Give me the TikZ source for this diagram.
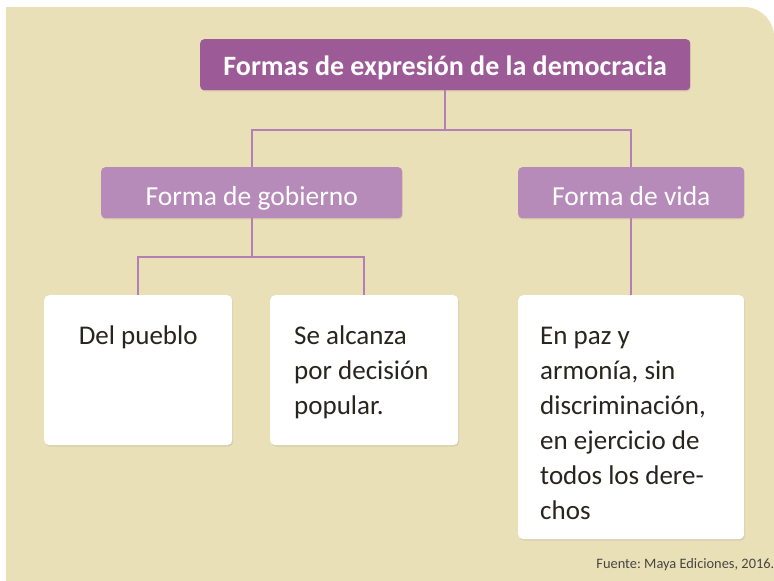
\documentclass[tikz,border=0pt]{standalone}
\usepackage{fontspec}
\setmainfont{Carlito}
\usepackage{xcolor}
\usetikzlibrary{shadows}

\definecolor{fondo}{RGB}{234,224,184}
\definecolor{moradoosc}{RGB}{156,90,151}
\definecolor{moradocl}{RGB}{182,138,185}
\definecolor{linea}{RGB}{178,128,180}
\definecolor{tinta}{RGB}{40,36,30}

\begin{document}
\frenchspacing
\begin{tikzpicture}[
    x=1pt, y=-1pt,
    titulo/.style={fill=moradoosc, rounded corners=4pt, text=white,
        font=\fontsize{28}{30}\selectfont\bfseries, minimum width=490pt,
        inner ysep=0pt, text height=36pt, text depth=15pt, anchor=north west,
        drop shadow={shadow xshift=0.5pt, shadow yshift=-1.2pt, opacity=0.22}},
    forma/.style={fill=moradocl, rounded corners=4pt, text=white,
        font=\fontsize{27.5}{30}\selectfont,
        inner ysep=0pt, text height=38pt, text depth=13pt, anchor=north west,
        drop shadow={shadow xshift=0.5pt, shadow yshift=-1.2pt, opacity=0.2}},
    caja/.style={fill=white, rounded corners=5pt, text=tinta,
        font=\fontsize{27}{35}\selectfont, anchor=north west,
        inner ysep=0pt, text height=49pt,
        drop shadow={shadow xshift=1pt, shadow yshift=-1.5pt, opacity=0.18}},
    enlace/.style={draw=linea, line width=2pt}
]
\useasboundingbox (0,0) rectangle (774,581);
\fill[white] (0,0) rectangle (774,581);
\begin{scope}
    \clip (0,0) rectangle (774,581);
    \fill[fondo] (6,7) rectangle (400,581);
    \fill[fondo, rounded corners=30pt] (300,7) rectangle (774,640);
\end{scope}

% titulo y formas
\node[titulo] (top) at (200,39) {Formas de expresión de la democracia};
\node[forma, minimum width=301pt] (gob) at (101,167) {Forma de gobierno};
\node[forma, minimum width=226pt] (vida) at (518,167) {Forma de vida};

% cajas
\node[caja, minimum width=188pt, text depth=101pt] (pueblo) at (44,295) {Del pueblo};
\node[caja, align=flush left, text width=140pt, inner xsep=24pt, text depth=101pt] (decision) at (270,295)
    {Se alcanza\\por decisión\\popular.};
\node[caja, align=flush left, text width=182pt, inner xsep=22pt, text depth=195pt] (paz) at (518,295)
    {En paz y\\armonía, sin\\discriminación,\\en ejercicio de\\todos los dere-\\chos};

\draw[enlace] (top.south) -- ++(0,40) coordinate (corte1) -| (gob.north);
\draw[enlace] (corte1) -| (vida.north);
\draw[enlace] (gob.south) -- ++(0,39) coordinate (corte2) -| (pueblo.north);
\draw[enlace] (corte2) -| (decision.north);
\draw[enlace] (vida.south) -- (paz.north);

\node[anchor=base east, inner sep=0pt, text=tinta!85, font=\fontsize{14.4}{16}\selectfont]
    (fuente) at (774.5,568) {Fuente: Maya Ediciones, 2016.};
\end{tikzpicture}
\end{document}
